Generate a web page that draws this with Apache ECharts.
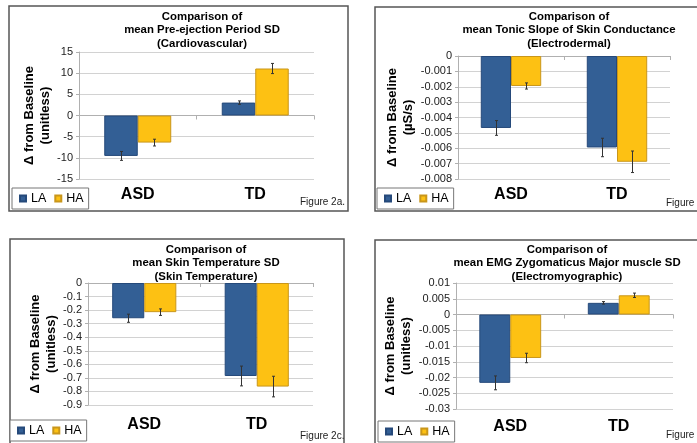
<!DOCTYPE html>
<html>
<head>
<meta charset="utf-8">
<script src="https://cdn.jsdelivr.net/npm/echarts@6/dist/echarts.min.js"></script>
<style>html,body{margin:0;padding:0;background:#fff;}#c{width:697px;height:443px;}</style>
</head>
<body>
<div id="c"></div>
<script>
// ---- data ----
const categories = ['ASD', 'TD'];
const seriesNames = ['LA', 'HA'];

const p1Title = 'Comparison of\nmean Pre-ejection Period SD\n(Cardiovascular)';
const p1YName = 'Δ from Baseline\n(unitless)';
const p1LA = [-9.55, 3.05];
const p1HA = [-6.4, 11.1];
const p1LAerr = [1.05, 0.4];
const p1HAerr = [0.8, 1.2];

const p2Title = 'Comparison of\nmean Tonic Slope of Skin Conductance\n(Electrodermal)';
const p2YName = 'Δ from Baseline\n(µS/s)';
const p2LA = [-0.00468, -0.00595];
const p2HA = [-0.00195, -0.00688];
const p2LAerr = [0.00048, 0.0006];
const p2HAerr = [0.0002, 0.0007];

const p3Title = 'Comparison of\nmean Skin Temperature SD\n(Skin Temperature)';
const p3YName = 'Δ from Baseline\n(unitless)';
const p3LA = [-0.26, -0.686];
const p3HA = [-0.215, -0.764];
const p3LAerr = [0.03, 0.073];
const p3HAerr = [0.024, 0.076];

const p4Title = 'Comparison of\nmean EMG Zygomaticus Major muscle SD\n(Electromyographic)';
const p4YName = 'Δ from Baseline\n(unitless)';
const p4LA = [-0.0217, 0.0037];
const p4HA = [-0.0138, 0.0061];
const p4LAerr = [0.0022, 0.0004];
const p4HAerr = [0.0015, 0.0007];

const yScales = [
  {min: -15, max: 15, interval: 5},
  {min: -0.008, max: 0, interval: 0.001},
  {min: -0.9, max: 0, interval: 0.1},
  {min: -0.03, max: 0.01, interval: 0.005}
];
const figureLabels = ['Figure 2a.', 'Figure 2b.', 'Figure 2c.', 'Figure 2d.'];

// ---- layout / style ----
const FONT = '"Liberation Sans", Arial, sans-serif';
const COLORS = {LA: '#335f95', HA: '#fdc113'};
const BORDERS = {LA: '#25497a', HA: '#c9961a'};
const GAP = 0.43;

const panels = [
  {title: p1Title, yName: p1YName, LA: p1LA, HA: p1HA, LAerr: p1LAerr, HAerr: p1HAerr,
   grid: {left: 79, top: 52, width: 235, height: 127}, nameGap: 18, labelMargin: 8,
   titleX: 197, titleY: 5, legend: {left: 12, top: 188}, fig: {left: 295, top: 192},
   frame: {x: 9, y: 6, width: 339, height: 205}},
  {title: p2Title, yName: p2YName, LA: p2LA, HA: p2HA, LAerr: p2LAerr, HAerr: p2HAerr,
   grid: {left: 458, top: 56, width: 212, height: 123}, nameGap: 38, labelMargin: 8,
   titleX: 564, titleY: 5, legend: {left: 377, top: 188}, fig: {left: 661, top: 193},
   frame: {x: 375, y: 7, width: 340, height: 204}},
  {title: p3Title, yName: p3YName, LA: p3LA, HA: p3HA, LAerr: p3LAerr, HAerr: p3HAerr,
   grid: {left: 88, top: 283, width: 225, height: 122}, nameGap: 28, labelMargin: 12,
   titleX: 201, titleY: 238, legend: {left: 10, top: 420}, fig: {left: 295, top: 426},
   frame: {x: 10, y: 239, width: 334, height: 220}},
  {title: p4Title, yName: p4YName, LA: p4LA, HA: p4HA, LAerr: p4LAerr, HAerr: p4HAerr,
   grid: {left: 456, top: 283, width: 217, height: 126}, nameGap: 33, labelMargin: 10,
   titleX: 562, titleY: 238, legend: {left: 378, top: 421}, fig: {left: 661, top: 425},
   frame: {x: 375, y: 240, width: 340, height: 220}}
];

function errRender(side) {
  return function (params, api) {
    const x = api.value(0), v = api.value(1), e = api.value(2);
    const band = api.size([1, 0])[0];
    const bw = band * (1 - GAP) / 2;
    const cx = Math.round(api.coord([x, v])[0] + side * bw / 2) + 0.5;
    const y1 = api.coord([x, v + e])[1];
    const y2 = api.coord([x, v - e])[1];
    const st = {stroke: '#333', lineWidth: 1};
    return {type: 'group', children: [
      {type: 'line', shape: {x1: cx, y1: y1, x2: cx, y2: y2}, style: st},
      {type: 'line', shape: {x1: cx - 1.5, y1: y1, x2: cx + 1.5, y2: y1}, style: st},
      {type: 'line', shape: {x1: cx - 1.5, y1: y2, x2: cx + 1.5, y2: y2}, style: st}
    ]};
  };
}

const option = {
  animation: false,
  backgroundColor: '#fff',
  textStyle: {fontFamily: FONT},
  title: [], legend: [], grid: [], xAxis: [], yAxis: [], series: [], graphic: []
};

panels.forEach((p, k) => {
  option.grid.push(Object.assign({containLabel: false}, p.grid));
  option.title.push({
    text: p.title, left: p.titleX, top: p.titleY, textAlign: 'center',
    textStyle: {fontFamily: FONT, fontSize: 11.4, fontWeight: 'bold', color: '#000', lineHeight: 13.4}
  });
  option.title.push({
    text: figureLabels[k], left: p.fig.left, top: p.fig.top,
    textStyle: {fontFamily: FONT, fontSize: 10, fontWeight: 'normal', color: '#222'}
  });
  option.legend.push({
    data: seriesNames, left: p.legend.left, top: p.legend.top, orient: 'horizontal',
    icon: 'rect', itemWidth: 6, itemHeight: 6, itemGap: 8,
    padding: [4, 5, 4, 7], borderColor: '#777', borderWidth: 1, borderRadius: 0,
    backgroundColor: '#fff', selectedMode: false,
    textStyle: {fontFamily: FONT, fontSize: 12.5, color: '#000'}
  });
  option.xAxis.push({
    type: 'category', data: categories, gridIndex: k,
    axisLine: {show: true, onZero: true, lineStyle: {color: '#b0b0b0', width: 1}},
    axisTick: {show: true, length: 4, lineStyle: {color: '#b0b0b0'}},
    axisLabel: {show: false}, splitLine: {show: false}
  });
  option.xAxis.push({
    type: 'category', data: categories, gridIndex: k, position: 'bottom',
    axisLine: {show: false, onZero: false}, axisTick: {show: false},
    axisLabel: {show: true, margin: p.labelMargin, fontFamily: FONT, fontSize: 16, fontWeight: 'bold', color: '#000'},
    splitLine: {show: false}
  });
  option.yAxis.push({
    type: 'value', gridIndex: k, min: yScales[k].min, max: yScales[k].max, interval: yScales[k].interval,
    name: p.yName, nameLocation: 'middle', nameGap: p.nameGap, nameRotate: 90,
    nameTextStyle: {fontFamily: FONT, fontSize: 13, fontWeight: 'bold', color: '#000', lineHeight: 16},
    axisLine: {show: true, lineStyle: {color: '#b0b0b0'}},
    axisTick: {show: true, length: 3, lineStyle: {color: '#b0b0b0'}},
    axisLabel: {fontFamily: FONT, fontSize: 11, color: '#222', margin: 6},
    splitLine: {show: true, lineStyle: {color: '#d2d2d2', width: 1}}
  });
  seriesNames.forEach((s, j) => {
    option.series.push({
      name: s, type: 'bar', xAxisIndex: 2 * k, yAxisIndex: k,
      data: p[s], barGap: '0%', barCategoryGap: (GAP * 100) + '%',
      itemStyle: {color: COLORS[s], borderColor: BORDERS[s], borderWidth: 1},
      emphasis: {disabled: true}
    });
  });
  seriesNames.forEach((s, j) => {
    option.series.push({
      name: s + ' error', type: 'custom', xAxisIndex: 2 * k, yAxisIndex: k, z: 10,
      renderItem: errRender(j === 0 ? -1 : 1),
      encode: {x: 0, y: 1},
      data: categories.map((c, i) => [i, p[s][i], p[s + 'err'][i]])
    });
  });
  option.graphic.push({
    type: 'rect', shape: p.frame, silent: true, z: -1,
    style: {fill: 'none', stroke: '#555', lineWidth: 1.5}
  });
});

const chart = echarts.init(document.getElementById('c'), null, {renderer: 'canvas'});
chart.setOption(option);
</script>
</body>
</html>
